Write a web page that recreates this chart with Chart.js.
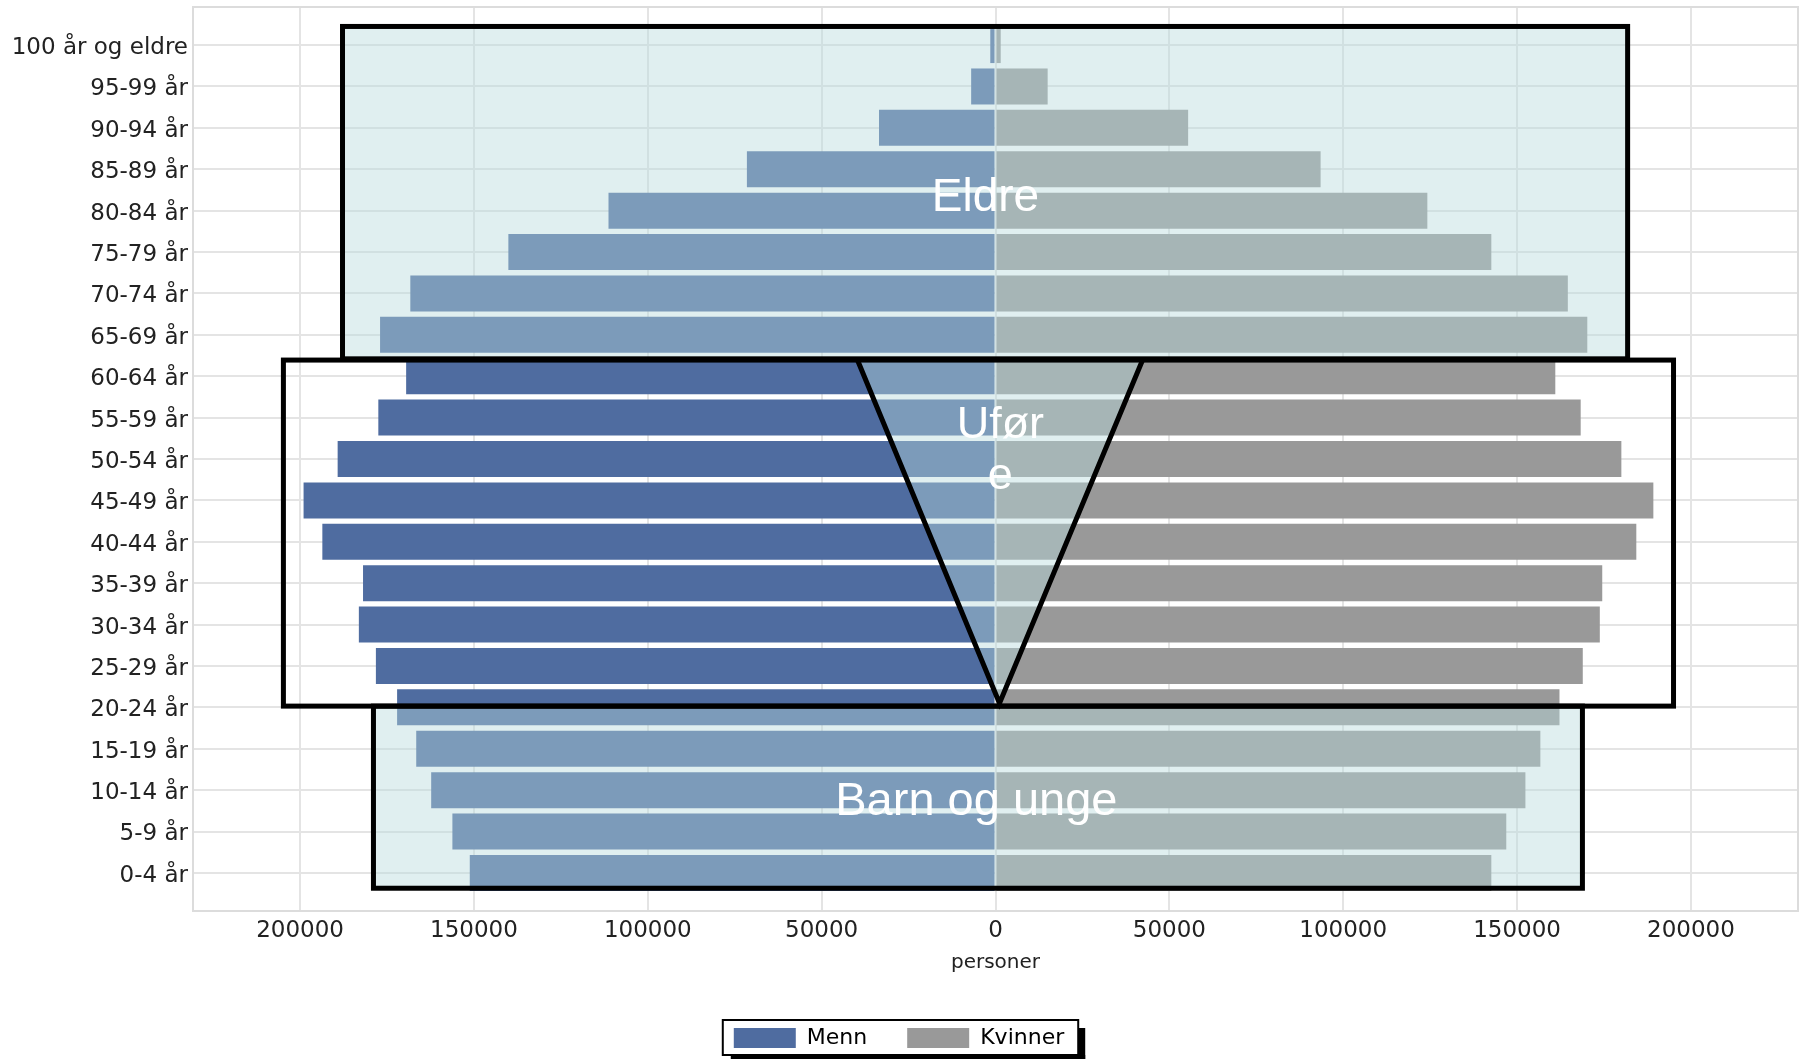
<!DOCTYPE html>
<html lang="no">
<head>
<meta charset="utf-8">
<title>Befolkning etter alder og kjønn</title>
<script src="https://cdn.jsdelivr.net/npm/chart.js@4.4.1/dist/chart.umd.min.js"></script>
<style>
  html, body { margin: 0; padding: 0; background: #fff; }
  #wrap { position: relative; width: 1805px; height: 1059px; }
</style>
</head>
<body>
<div id="wrap"><canvas id="pyramide"></canvas></div>
<script>
// --- DATA (fra yngst nederst til eldst øverst) ---
const aldersgrupper = [
    '0-4 år', '5-9 år', '10-14 år', '15-19 år', '20-24 år', '25-29 år', '30-34 år',
    '35-39 år', '40-44 år', '45-49 år', '50-54 år', '55-59 år', '60-64 år', '65-69 år',
    '70-74 år', '75-79 år', '80-84 år', '85-89 år', '90-94 år', '95-99 år', '100 år og eldre'
];
const menn = [
    151200, 156200, 162300, 166600, 172100, 178200, 183100,
    181900, 193600, 199000, 189200, 177500, 169500, 177000,
    168300, 140100, 111300, 71500, 33500, 7000, 1500
];
const kvinner = [
    142600, 146900, 152400, 156700, 162200, 168900, 173800,
    174500, 184300, 189200, 180000, 168300, 161000, 170200,
    164600, 142600, 124200, 93500, 55400, 15000, 1500
];
const xTicks = [-200000, -150000, -100000, -50000, 0, 50000, 100000, 150000, 200000];
const xGrense = 230800;

// --- MARKERTE OMRÅDER (i dataenheter: personer / aldersindeks) ---
const boksEldre = { x0: -187800, x1: 181800, y0: 12.42, y1: 20.45 };
const boksUfore = { x0: -204800, x1: 195000, y0: 4.03, y1: 12.39 };
const boksBarn  = { x0: -178900, x1: 168800, y0: -0.37, y1: 4.03 };
const vTrekant  = [[-39700, 12.39], [1150, 4.1], [42300, 12.39]];
const tekster = [
    { linjer: ['Eldre'], x: -2900, y: [15.99], str: 46 },
    { linjer: ['Ufør', 'e'], x: 1400, y: [10.51, 9.28], str: 45 },
    { linjer: ['Barn og unge'], x: -5500, y: [1.40], str: 47 }
];

// --- FARGER ---
const cores = {
    menn: '#4f6ca0',
    kvinner: '#999999',
    slor: 'rgba(183, 218, 220, 0.43)',
    grid: '#e4e4e4'
};

const FONT = '"DejaVu Sans", sans-serif';

// fjerner ekstra marg som Chart.js legger til for første/siste etikett
function nullPadding(s) {
    s.paddingTop = 0;
    s.paddingBottom = 0;
    s.paddingLeft = 0;
    s.paddingRight = 0;
}

// Slør, svarte rammer og hvite tekster over stolpene
const omraadePlugin = {
    id: 'omraader',
    beforeDatasetsDraw(chart) {
        const { ctx, chartArea: a } = chart;
        ctx.save();
        ctx.strokeStyle = '#dcdcdc';
        ctx.lineWidth = 2;
        ctx.strokeRect(a.left, a.top, a.right - a.left, a.bottom - a.top);
        ctx.restore();
    },
    afterDatasetsDraw(chart) {
        const { ctx, scales: { x, y } } = chart;
        const px = v => x.getPixelForValue(v);
        const py = v => y.getPixelForValue(v);
        const rect = b => [px(b.x0), py(b.y1), px(b.x1) - px(b.x0), py(b.y0) - py(b.y1)];

        ctx.save();
        ctx.fillStyle = cores.slor;
        ctx.fillRect(...rect(boksEldre));
        ctx.fillRect(...rect(boksBarn));
        ctx.beginPath();
        vTrekant.forEach(([vx, vy], i) => i ? ctx.lineTo(px(vx), py(vy)) : ctx.moveTo(px(vx), py(vy)));
        ctx.closePath();
        ctx.fill();

        ctx.strokeStyle = '#000';
        ctx.lineWidth = 5;
        ctx.lineJoin = 'miter';
        ctx.strokeRect(...rect(boksEldre));
        ctx.strokeRect(...rect(boksUfore));
        ctx.strokeRect(...rect(boksBarn));
        ctx.beginPath();
        vTrekant.forEach(([vx, vy], i) => i ? ctx.lineTo(px(vx), py(vy)) : ctx.moveTo(px(vx), py(vy)));
        ctx.stroke();

        ctx.fillStyle = '#fff';
        ctx.textAlign = 'center';
        ctx.textBaseline = 'alphabetic';
        tekster.forEach(t => {
            ctx.font = `${t.str}px "Liberation Sans", Arial, sans-serif`;
            t.linjer.forEach((l, i) => ctx.fillText(l, px(t.x), py(t.y[i])));
        });
        ctx.restore();
    },
    afterDraw(chart) {
        // ramme med skygge rundt forklaringen
        const lg = chart.legend;
        if (!lg || !lg.legendHitBoxes || !lg.legendHitBoxes.length) return;
        const hb = lg.legendHitBoxes;
        const l = hb[0].left - 11;
        const r = hb[hb.length - 1].left + hb[hb.length - 1].width + 14;
        const t = hb[0].top - 7;
        const h = 35;
        const ctx = chart.ctx;
        ctx.save();
        ctx.fillStyle = '#000';
        ctx.fillRect(r, t + 8, 7, h);
        ctx.fillRect(l + 8, t + h, r - l - 1, 7);
        ctx.strokeStyle = '#000';
        ctx.lineWidth = 2;
        ctx.strokeRect(l, t, r - l, h);
        ctx.restore();
    }
};

// --- GRAFEN ---
const ctx = document.getElementById('pyramide').getContext('2d');
const pyramide = new Chart(ctx, {
    type: 'bar',
    data: {
        datasets: [{
            label: 'Menn',
            data: menn.map((v, i) => ({ x: -v, y: i })),
            backgroundColor: cores.menn,
            borderWidth: 0
        }, {
            label: 'Kvinner',
            data: kvinner.map((v, i) => ({ x: v, y: i })),
            backgroundColor: cores.kvinner,
            borderWidth: 0
        }]
    },
    options: {
        indexAxis: 'y',
        responsive: true,
        maintainAspectRatio: false,
        animation: false,
        devicePixelRatio: 1,
        barPercentage: 0.87,
        categoryPercentage: 1,
        layout: { padding: { top: 7, right: 7, bottom: 0, left: 0 } },
        plugins: {
            tooltip: { enabled: false },
            legend: {
                position: 'bottom',
                labels: {
                    boxWidth: 62,
                    boxHeight: 20,
                    padding: 40,
                    color: '#000',
                    font: { family: FONT, size: 22 }
                }
            }
        },
        scales: {
            x: {
                type: 'linear',
                stacked: true,
                offset: false,
                min: -xGrense,
                max: xGrense,
                afterBuildTicks: s => { s.ticks = xTicks.map(v => ({ value: v })); },
                afterFit: s => { s.height = 76; nullPadding(s); },
                grid: { color: cores.grid, lineWidth: 2, drawTicks: false, offset: false },
                border: { display: false },
                ticks: {
                    padding: 6,
                    color: '#222',
                    font: { family: FONT, size: 23 },
                    callback: v => String(Math.abs(v))
                },
                title: {
                    display: true,
                    text: 'personer',
                    color: '#222',
                    font: { family: FONT, size: 20 },
                    padding: { top: 0, bottom: 12 }
                }
            },
            y: {
                type: 'linear',
                stacked: true,
                offset: false,
                min: -0.92,
                max: 20.92,
                afterBuildTicks: s => { s.ticks = aldersgrupper.map((_, i) => ({ value: i })); },
                afterFit: s => { s.width = 193; nullPadding(s); },
                grid: { color: cores.grid, lineWidth: 2, drawTicks: false, offset: false },
                border: { display: false },
                ticks: {
                    padding: 5,
                    labelOffset: 3,
                    color: '#222',
                    font: { family: FONT, size: 23 },
                    callback: v => aldersgrupper[v]
                }
            }
        }
    },
    plugins: [omraadePlugin]
});
</script>
</body>
</html>
